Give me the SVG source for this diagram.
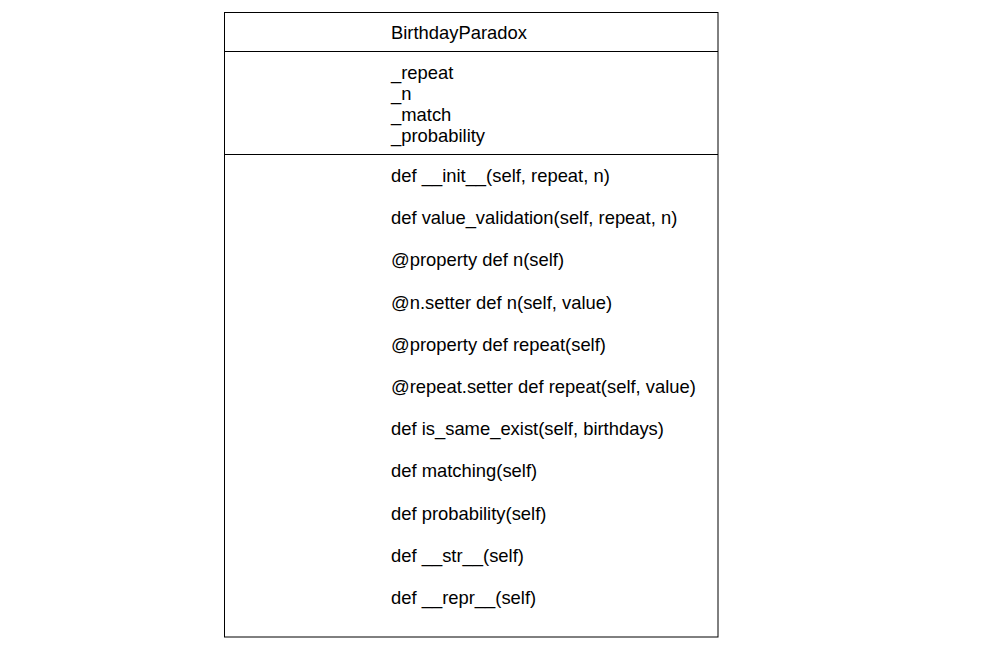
<svg xmlns="http://www.w3.org/2000/svg" width="989" height="665" viewBox="0 0 989 665">
  <style>
    .box { fill: #ffffff; stroke: #000000; stroke-width: 1; }
    .div { stroke: #000000; stroke-width: 1; }
    .t { font-family: "Liberation Sans", Arial, sans-serif; font-size: 18.4px; fill: #000000; }
  </style>
  <rect width="989" height="665" fill="#ffffff"/>
  <g id="BirthdayParadox">
    <rect class="box" x="224.5" y="12.5" width="493.5" height="624.5"/>
    <line class="div" x1="224.5" y1="51.5" x2="718" y2="51.5"/>
    <line class="div" x1="224.5" y1="154.5" x2="718" y2="154.5"/>
    <text class="t" x="391" y="39">BirthdayParadox</text>
    <text class="t" x="391" y="79">_repeat</text>
    <text class="t" x="391" y="100">_n</text>
    <text class="t" x="391" y="121">_match</text>
    <text class="t" x="391" y="142">_probability</text>
    <text class="t" x="391" y="182">def __init__(self, repeat, n)</text>
    <text class="t" x="391" y="224.2">def value_validation(self, repeat, n)</text>
    <text class="t" x="391" y="266.4">@property def n(self)</text>
    <text class="t" x="391" y="308.6">@n.setter def n(self, value)</text>
    <text class="t" x="391" y="350.8">@property def repeat(self)</text>
    <text class="t" x="391" y="393">@repeat.setter def repeat(self, value)</text>
    <text class="t" x="391" y="435.2">def is_same_exist(self, birthdays)</text>
    <text class="t" x="391" y="477.4">def matching(self)</text>
    <text class="t" x="391" y="519.6">def probability(self)</text>
    <text class="t" x="391" y="561.8">def __str__(self)</text>
    <text class="t" x="391" y="604">def __repr__(self)</text>
  </g>
  <g id="connectors"/>
</svg>
